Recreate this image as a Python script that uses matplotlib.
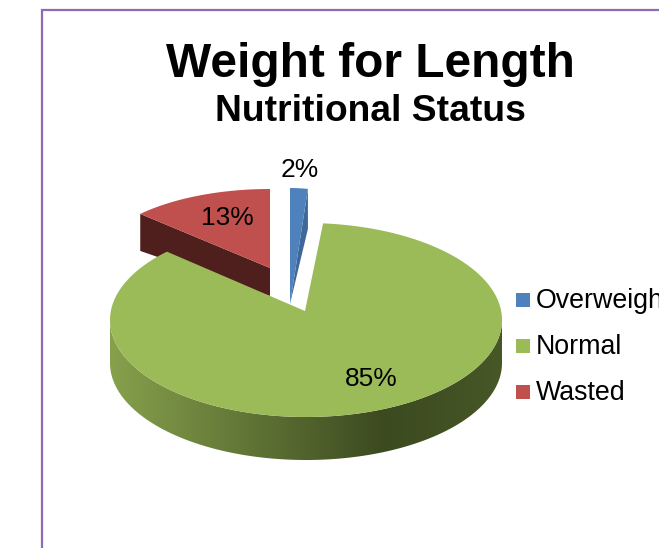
import numpy as np
import matplotlib
matplotlib.use("Agg")
import matplotlib.pyplot as plt
from matplotlib.patches import Polygon, Rectangle
from matplotlib.colors import LinearSegmentedColormap

categories = ["Overweight", "Normal", "Wasted"]
percent = [2, 85, 13]
colors = ["#4F81BD", "#9BBB59", "#C0504D"]
title = "Weight for Length"
subtitle = "Nutritional Status"

W, H = 659, 548
plt.rcParams['font.family'] = ['Liberation Sans', 'DejaVu Sans']
fig = plt.figure(figsize=(W/100, H/100), dpi=100)
ax = fig.add_axes([0, 0, 1, 1])
ax.set_xlim(0, W); ax.set_ylim(H, 0); ax.axis('off')

# frame
ax.plot([42, 42, W+5], [H+5, 10, 10], color="#8C6DB3", lw=1.6, solid_joinstyle='miter', zorder=1)

# slice angles, clockwise from 12 o'clock
edges = np.concatenate([[0], np.cumsum(percent)]) * 3.6
span = {c: (edges[i], edges[i+1]) for i, c in enumerate(categories)}

def rim(cx, cy, rx, ry, a0, a1, n=200):
    t = np.radians(np.linspace(a0, a1, n))
    return np.column_stack([cx + rx*np.sin(t), cy - ry*np.cos(t)])

# --- Overweight
a0, a1 = span["Overweight"]
apex = (290, 304)
r = rim(290, 304, 143, 116, a0, a1, 20)
ax.add_patch(Polygon([r[-1], (r[-1][0], r[-1][1]+40), apex], color="#3F6797", lw=0, zorder=2))
ax.add_patch(Polygon(np.vstack([[apex], r]), color=colors[0], lw=0, zorder=3))

# --- Wasted
a0, a1 = span["Wasted"]
r = rim(270, 268, 178, 79, a0, a1)
apex = (270, 268)
ax.add_patch(Polygon([r[0], apex, (270, 296), (r[0][0], r[0][1]+37)], color="#4F1F1E", lw=0, zorder=2))
ax.add_patch(Polygon(np.vstack([[apex], r]), color=colors[2], lw=0, zorder=3))

# --- Normal (small angle shifts stand in for the 3-D perspective)
a0, a1 = span["Normal"]
cx, cy, rx, ry, depth = 306, 320, 196, 97, 43
r = rim(cx, cy, rx, ry, a0 - 2.2, a1 + 1.6, 400)
low = rim(cx, cy, rx, ry, 90, 270, 300)
side = np.vstack([low, (low + [0, depth])[::-1]])
cmap = LinearSegmentedColormap.from_list(
    "rim", [(0, "#86A04C"), (0.70, "#3C4A20"), (1, "#475726")])
im = ax.imshow(np.linspace(0, 1, 400)[None, :], cmap=cmap, aspect='auto',
               extent=[cx-rx, cx+rx, cy+ry+depth+2, cy-2], zorder=4)
clip = Polygon(side, transform=ax.transData, fc='none', ec='none')
ax.add_patch(clip)
im.set_clip_path(clip)
ax.set_xlim(0, W); ax.set_ylim(H, 0)
ax.add_patch(Polygon(np.vstack([[(305, 311)], r]), color=colors[1], lw=0, zorder=5))

# text
ax.text(370, 77, title, fontsize=34.5, fontweight='bold', ha='center', va='baseline', zorder=6)
ax.text(370, 121, subtitle, fontsize=26.8, fontweight='bold', ha='center', va='baseline', zorder=6)
label_pos = [(299.5, 177), (371, 386), (227, 225)]
for p, (x, y) in zip(percent, label_pos):
    ax.text(x, y, f"{p}%", fontsize=19, ha='center', va='baseline', zorder=6)

for i, (c, col) in enumerate(zip(categories, colors)):
    y = 300 + 46*i
    ax.add_patch(Rectangle((516, y-7), 14, 14, color=col, lw=0, zorder=6))
    ax.text(536, y+8, c, fontsize=19.3, ha='left', va='baseline', zorder=6, clip_on=True)

fig.savefig("out.png", dpi=100)
